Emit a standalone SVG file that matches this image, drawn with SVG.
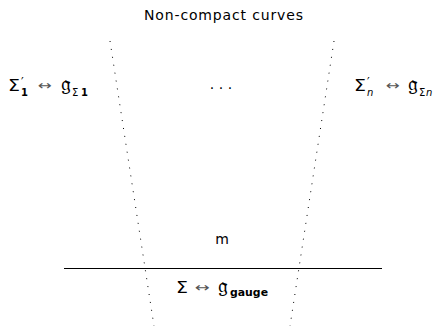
<svg xmlns="http://www.w3.org/2000/svg" width="435" height="327" viewBox="0 0 435 327">
<style>
text{font-family:"DejaVu Sans","Noto Sans",sans-serif;font-size:14px;fill:#000}
.S{font-size:15px}
.frak{font-family:"DejaVu Sans","DejaVu Serif","Noto Sans",serif;font-size:22px}
.arr{font-size:13px;fill:#555}
.sub{font-size:10px}
.pr{font-size:12px}
.b{font-weight:bold}
.i{font-style:italic}
.dot{stroke:#000;stroke-width:1;stroke-dasharray:1 7;fill:none}
</style>
<rect width="435" height="327" fill="#fff"/>
<g id="connectors">
<line class="dot" x1="110" y1="41" x2="154" y2="326"/>
<line class="dot" x1="334" y1="41" x2="290" y2="326"/>
<line x1="64" y1="268.5" x2="382" y2="268.5" stroke="#000" stroke-width="1"/>
</g>
<g id="title"><text x="144" y="19.5" textLength="159" lengthAdjust="spacing" font-size="14.5">Non-compact curves</text></g>
<g id="left">
<text class="S" x="8" y="91" textLength="12" lengthAdjust="spacingAndGlyphs">Σ</text>
<text class="pr" x="21" y="86">′</text>
<text class="sub b" x="21" y="96">1</text>
<text class="arr" x="38" y="90" textLength="14" lengthAdjust="spacingAndGlyphs">↔</text>
<text class="frak" x="61" y="91">𝔤</text>
<text class="sub" x="72" y="96">Σ</text>
<text class="sub b" x="81" y="96">1</text>
</g>
<g id="dots"><text x="221" y="93" text-anchor="middle" font-size="15.7">· · ·</text></g>
<g id="right">
<text class="S" x="354" y="91" textLength="12" lengthAdjust="spacingAndGlyphs">Σ</text>
<text class="pr" x="367" y="86">′</text>
<text class="sub i" x="367" y="96">n</text>
<text class="arr" x="386" y="90" textLength="14" lengthAdjust="spacingAndGlyphs">↔</text>
<text class="frak" x="408" y="91">𝔤</text>
<text class="sub" x="419" y="96">Σ</text>
<text class="sub i" x="426" y="96">n</text>
</g>
<g id="m"><text x="222" y="244" text-anchor="middle" font-size="13">m</text></g>
<g id="bottom">
<text class="S" x="176" y="292.5" textLength="12" lengthAdjust="spacingAndGlyphs">Σ</text>
<text class="arr" x="195" y="291.5" textLength="15" lengthAdjust="spacingAndGlyphs">↔</text>
<text class="frak" x="218" y="292.5">𝔤</text>
<text class="sub b" x="230" y="296" textLength="38" lengthAdjust="spacingAndGlyphs">gauge</text>
</g>
</svg>
